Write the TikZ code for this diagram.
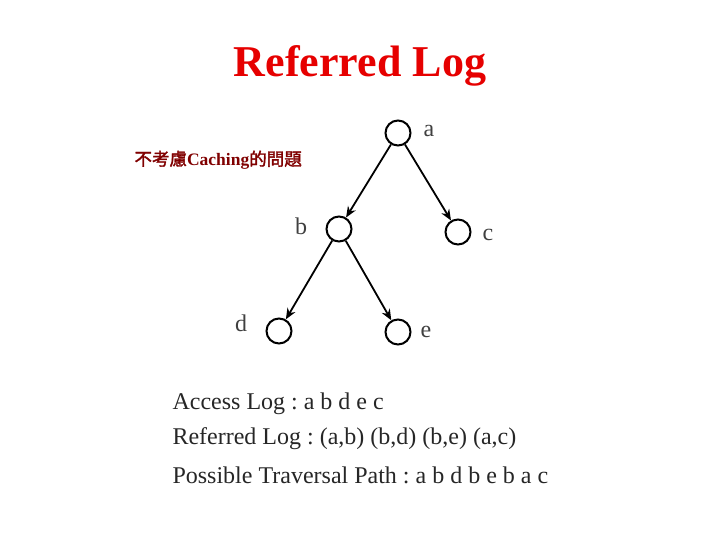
\documentclass[tikz,border=0pt]{standalone}
\usepackage{fontspec}
\setmainfont{Liberation Serif}
\newfontfamily\cjk[AutoFakeBold=2]{Noto Sans CJK TC}
\usetikzlibrary{arrows.meta}
\frenchspacing
\definecolor{titlered}{RGB}{230,0,0}
\definecolor{notered}{RGB}{128,0,0}
\tikzset{
  page/.style={x=1pt,y=-1pt},
  vertex/.style={circle,draw=black,line width=2pt,minimum size=25pt,inner sep=0pt},
  vlabel/.style={font=\fontsize{24}{26}\selectfont,text=black!75},
  edge/.style={line width=1.8pt,-{Stealth[length=11pt,width=9pt]}},
  logline/.style={anchor=west,font=\fontsize{24}{26}\selectfont,text=black!85}
}
\begin{document}
\begin{tikzpicture}[page]
\useasboundingbox (0,0) rectangle (720,540);
% title
\node[text=titlered,font=\fontsize{44}{48}\selectfont\bfseries] (title) at (360,66) {Referred Log};
\node[anchor=west,text=notered,font=\fontsize{17.5}{20}\selectfont\bfseries] (note) at (131,160) {{\cjk 不考慮}Caching{\cjk 的問題}};
% the tree, edit here for the vertices
\foreach \n/\x/\y in {a/398/133, b/339/229, c/458/232, d/279/331, e/398/332}
  \node[vertex] (\n) at (\x,\y) {};
\foreach \n/\x/\y in {a/429/131, b/301/226, c/488/235, d/241/323, e/426/332} % labels
  \node[vlabel] (l\n) at (\x,\y) {\n};
\foreach \s/\t in {a/b, a/c, b/d, b/e}
  \draw[edge] (\s) -- (\t);
% the logs
\node[logline] (acc) at (169,404) {Access Log : a b d e c};
\node[logline] (ref) at (169,439) {Referred Log : (a,b) (b,d) (b,e) (a,c)};
\node[logline] (path) at (169,475) {Possible Traversal Path : a b d b e b a c};
\end{tikzpicture}
\end{document}
